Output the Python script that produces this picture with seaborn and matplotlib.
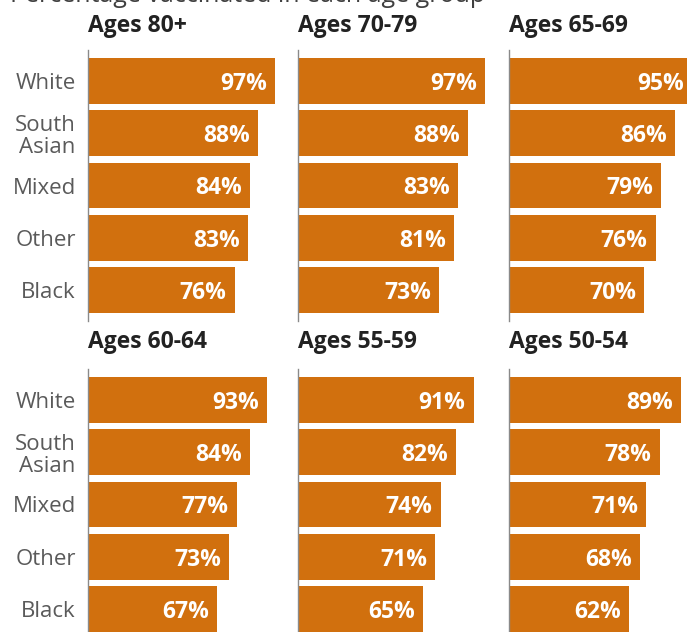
import matplotlib
matplotlib.use("Agg")
import matplotlib.pyplot as plt
import seaborn as sns
import pandas as pd

sns.set_theme(style="white")
plt.rcParams["font.family"] = ["Open Sans", "DejaVu Sans"]

groups = ["White", "South\nAsian", "Mixed", "Other", "Black"]
age_bands = ["Ages 80+", "Ages 70-79", "Ages 65-69",
             "Ages 60-64", "Ages 55-59", "Ages 50-54"]
ages_80_plus = [97, 88, 84, 83, 76]
ages_70_79 = [97, 88, 83, 81, 73]
ages_65_69 = [95, 86, 79, 76, 70]
ages_60_64 = [93, 84, 77, 73, 67]
ages_55_59 = [91, 82, 74, 71, 65]
ages_50_54 = [89, 78, 71, 68, 62]
series = [ages_80_plus, ages_70_79, ages_65_69,
          ages_60_64, ages_55_59, ages_50_54]

BAR = "#d1700e"
W, H = 687, 632
fig = plt.figure(figsize=(W / 100, H / 100), dpi=100)

col_left = [88, 298, 509]      # px from left
row_top = [49.65, 368.65]      # px from top
ax_w, ax_h = 193, 271.7

fig.text(10 / W, 1 - 2.2 / H, "Percentage vaccinated in each age group",
         ha="left", va="baseline", fontsize=18, color="#404040")

for i, (band, vals) in enumerate(zip(age_bands, series)):
    r, c = divmod(i, 3)
    left = col_left[c] / W
    bottom = 1 - (row_top[r] + ax_h) / H
    ax = fig.add_axes([left, bottom, ax_w / W, ax_h / H])
    df = pd.DataFrame({"group": groups, "pct": vals})
    sns.barplot(data=df, x="pct", y="group", color=BAR, saturation=1,
                width=0.88, ax=ax, linewidth=0)
    ax.set_xlim(0, 100)
    ax.set_ylim(4.6, -0.6)
    ax.set_xlabel("")
    ax.set_ylabel("")
    ax.set_xticks([])
    for s in ["top", "right", "bottom"]:
        ax.spines[s].set_visible(False)
    ax.spines["left"].set_color("#8a8a8a")
    ax.spines["left"].set_linewidth(1.0)
    ax.tick_params(axis="y", left=False, pad=2.8)
    if c == 0:
        for lab in ax.get_yticklabels():
            lab.set_fontsize(16)
            lab.set_color("#5a5a5a")
            lab.set_linespacing(1.05)
    else:
        ax.set_yticklabels([])
    for j, v in enumerate(vals):
        ax.text(v - 4.2, j, f"{v}%", ha="right", va="center_baseline",
                color="white", fontsize=16.5, fontweight="bold")
    title_base = 32 if r == 0 else 348
    fig.text(left, 1 - title_base / H, band, ha="left", va="baseline",
             fontsize=16.5, fontweight="bold", color="#222222")

fig.savefig("out.png", dpi=100)
